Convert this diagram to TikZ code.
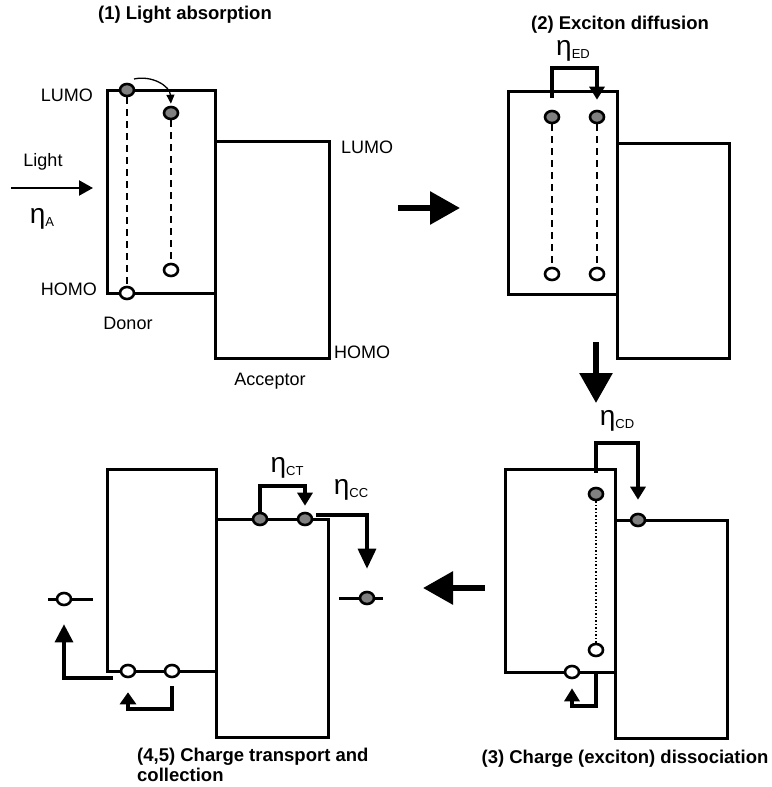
\documentclass[tikz,border=0pt]{standalone}
\usepackage{fontspec}
\setmainfont{Liberation Sans}
\usetikzlibrary{shapes.geometric, arrows.meta}

\newcommand{\effic}[1]{{\fontsize{28}{28}\selectfont η}\raisebox{-3pt}{\fontsize{13}{13}\selectfont #1}}

\begin{document}
\begin{tikzpicture}[
  x=1pt, y=-1pt,
  band/.style={line width=3pt, line join=miter},
  level/.style={line width=3pt},
  elec/.style={ellipse, draw, line width=2.6pt, fill=gray, minimum width=14pt,
               minimum height=12pt, inner sep=0pt},
  hole/.style={elec, fill=white},
  pair/.style={line width=1.3pt, dash pattern=on 7pt off 5pt},
  bound/.style={line width=1.3pt, dash pattern=on 1.5pt off 2pt},
  hop/.style={-{Triangle[width=8pt,length=9pt]}, line width=1.3pt},
  bracket/.style={-{Triangle[width=15pt,length=13pt]}, line width=3.2pt},
  thinarr/.style={-{Triangle[width=15pt,length=14pt]}, line width=2.2pt},
  bigarr/.style={-{Triangle[width=32pt,length=30pt]}, line width=6pt},
  lbl/.style={font=\fontsize{18}{21}\selectfont, inner sep=0pt},
  ttl/.style={font=\fontsize{18.5}{20}\selectfont\bfseries, inner sep=0pt}
]
\useasboundingbox (0,0) rectangle (771,787);

% (1) light absorption
\node[ttl] (title1) at (185,15) {(1) Light absorption};
\draw[band] (107,90) rectangle (215,293);
\draw[band] (215,141) rectangle (329,358);
\node[lbl, anchor=east] (lumo1) at (93,95) {LUMO};
\node[lbl, anchor=east] (homo1) at (97,289) {HOMO};
\node[lbl, anchor=west] (lumo1a) at (341,147) {LUMO};
\node[lbl, anchor=west] (homo1a) at (334,352) {HOMO};
\node[lbl] (donor1) at (128,323) {Donor};
\node[lbl] (acc1) at (270,381) {Acceptor};
\node[lbl] (light) at (43,162) {Light};
\node (etaA) at (42,219) {\effic{A}};
\coordinate (lightin) at (11,188);
\coordinate (lightout) at (93,188);
\draw[thinarr] (lightin) -- (lightout);
\node[elec] (e1a) at (127,90) {};
\node[elec] (e1b) at (171,113) {};
\node[hole] (h1a) at (127,293) {};
\node[hole] (h1b) at (171,270) {};
\draw[pair] (e1a) -- (h1a);
\draw[pair] (e1b) -- (h1b);
\draw[hop, shorten >=2pt] ([xshift=7pt,yshift=11pt]e1a.center)
  .. controls (152,75) and (170,86) .. (e1b.north);

% (2) exciton diffusion
\node[ttl] (title2) at (620,25) {(2) Exciton diffusion};
\draw[band] (508,91) rectangle (617,294);
\draw[band] (617,143) rectangle (729,358);
\node[elec] (e2a) at (552,117) {};
\node[elec] (e2b) at (597,117) {};
\node[hole] (h2a) at (552,274) {};
\node[hole] (h2b) at (597,274) {};
\draw[pair] (e2a) -- (h2a);
\draw[pair] (e2b) -- (h2b);
\coordinate (ed) at (575,68);
\draw[bracket, shorten <=12pt, shorten >=10pt] (e2a) |- (ed) -| (e2b);
\node (etaED) at (573,51) {\effic{ED}};

% (3) charge dissociation
\node[ttl] (title3) at (625,759) {(3) Charge (exciton) dissociation};
\draw[band] (505,469) rectangle (615,672);
\draw[band] (615,520) rectangle (727,738);
\node[elec] (e3a) at (596,494) {};
\node[hole] (h3a) at (596,650) {};
\node[elec] (e3c) at (638,520) {};
\node[hole] (h3b) at (572,672) {};
\draw[bound] (e3a) -- (h3a);
\coordinate (cd) at (617,443);
\draw[bracket, shorten <=14pt, shorten >=13pt] (e3a) |- (cd) -| (e3c);
\coordinate (cd1) at (584,706);
\draw[bracket, shorten <=16pt, shorten >=9pt] (h3a) |- (cd1) -| (h3b);
\node (etaCD) at (617,421) {\effic{CD}};

% (4,5) charge transport and collection
\node[ttl, align=left, anchor=north west] (title4) at (137,748)
  {(4,5) Charge transport and\\collection};
\draw[band] (107,469) rectangle (216,671);
\draw[band] (216,519) rectangle (328,737);
\draw[level] (339,598) -- (383,598);
\draw[level] (48,599) -- (93,599);
\node[elec] (e4a) at (260,519) {};
\node[elec] (e4b) at (305,519) {};
\node[hole] (h4a) at (128,671) {};
\node[hole] (h4b) at (172,671) {};
\node[elec] (r4) at (367,598) {};
\node[hole] (l4) at (64,599) {};
\coordinate (ct) at (282,486);
\draw[bracket, shorten >=6pt] (e4a) |- (ct) -| (e4b);
\node (etaCT) at (287,468) {\effic{CT}};
\coordinate (cc0) at (316,515);
\draw[bracket, shorten >=22pt, -{Triangle[width=18pt,length=20pt]}] (cc0) -| (r4);
\node (etaCC) at (351,490) {\effic{CC}};
\coordinate (lc0) at (113,678);
\draw[bracket, shorten >=18pt, -{Triangle[width=18pt,length=18pt]}] (lc0) -| (l4);
\coordinate (ct1) at (150,709);
\draw[bracket, shorten <=8pt, shorten >=14pt, -{Triangle[width=16pt,length=12pt]}]
  (h4b) |- (ct1) -| (h4a);

% steps
\coordinate (s1a) at (398,208);
\coordinate (s1b) at (460,208);
\draw[bigarr] (s1a) -- (s1b);
\coordinate (s2a) at (596,342);
\coordinate (s2b) at (596,403);
\draw[bigarr] (s2a) -- (s2b);
\coordinate (s3a) at (485,588);
\coordinate (s3b) at (423,588);
\draw[bigarr] (s3a) -- (s3b);

\end{tikzpicture}
\end{document}
